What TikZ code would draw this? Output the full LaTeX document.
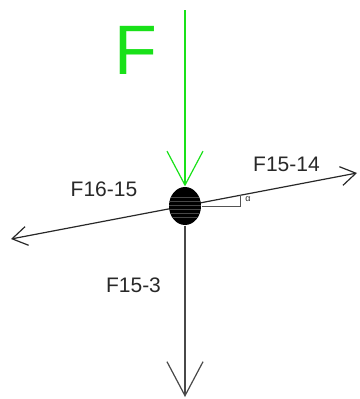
\documentclass[tikz,border=0pt]{standalone}
\usepackage{fontspec}
\setmainfont{Liberation Sans}
\usetikzlibrary{arrows.meta,shapes.geometric,patterns}
\definecolor{forcegreen}{RGB}{25,225,25}
\definecolor{linegray}{RGB}{40,40,40}
\begin{document}
\begin{tikzpicture}[x=1pt,y=-1pt,line width=1.2pt,
bigbarb/.style={-{Straight Barb[length=34pt,width=36pt]}},
smallbarb/.style={{Straight Barb[length=15pt,width=19pt]}-{Straight Barb[length=15pt,width=19pt]}},
lbl/.style={text=linegray,font=\fontsize{21}{21}\selectfont,inner sep=0pt},
ballnode/.style={ellipse,fill=black,minimum width=32pt,minimum height=38pt,inner sep=0pt}]
\useasboundingbox (0,0) rectangle (359,399);
\coordinate (c) at (185,206);
\coordinate (ftop) at (185,10);
\coordinate (fbottom) at (185,397);
\coordinate (lefttip) at (11,239);
\coordinate (righttip) at (357,173);
\draw[linegray,smallbarb](lefttip)--(righttip);
\node[ballnode] (ball) at (c) {};
% faint stripes on the ball
\begin{scope}
\clip (c) ellipse (16 and 19);
\draw[black!72,line width=0.45pt](169,197)--(201,197)(169,201)--(201,201)(169,205)--(201,205)
(169,209)--(201,209)(169,213)--(201,213)(169,217)--(201,217);
\end{scope}
\draw[forcegreen,bigbarb](ftop)--(ball.north);
\draw[linegray!85,bigbarb](ball.south)--(fbottom);
% angle mark
\path (c)--(righttip) coordinate[pos=0.324] (meet);
\draw[linegray!80,line width=0.9pt](ball.east)--(meet|-ball.east)--(meet);
\node[text=linegray,font=\fontsize{9}{9}\selectfont,inner sep=0pt] (alpha) at (248,199.5) {α};
\node[text=forcegreen,font=\fontsize{70}{70}\selectfont,inner sep=0pt] (F) at (135.5,50) {F};
\node[lbl] (f1615) at (104,189.5) {F16-15};
\node[lbl] (f1514) at (286.5,164.5) {F15-14};
\node[lbl] (f153) at (133.5,285.5) {F15-3};
\end{tikzpicture}
\end{document}
